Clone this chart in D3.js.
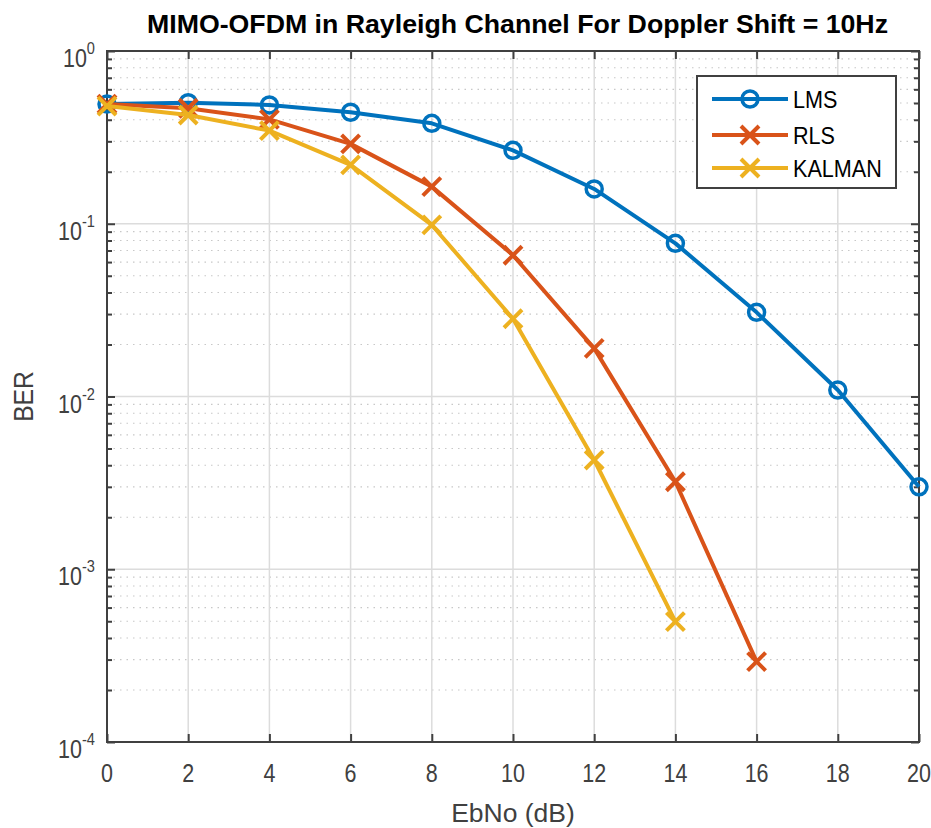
<!DOCTYPE html>
<html><head><meta charset="utf-8">
<script src="https://cdn.jsdelivr.net/npm/d3@7"></script>
<style>
html,body{margin:0;padding:0;background:#fff;}
svg{display:block;}
text{font-family:"Liberation Sans",Arial,sans-serif;}
</style></head>
<body>
<svg id="chart" width="931" height="828"></svg>
<script>
const ebno = [0, 2, 4, 6, 8, 10, 12, 14, 16, 18, 20];
const lms = [0.493, 0.502, 0.487, 0.442, 0.3815, 0.266, 0.159, 0.077, 0.0307, 0.0109, 0.0030];
const rls = [0.493, 0.466, 0.402, 0.290, 0.164, 0.0657, 0.0190, 0.00321, 0.000292];
const kalman = [0.480, 0.426, 0.346, 0.219, 0.0984, 0.0282, 0.00429, 0.000497];
const seriesNames = ["LMS", "RLS", "KALMAN"];
const xTicks = [0, 2, 4, 6, 8, 10, 12, 14, 16, 18, 20];
const yTickExps = [0, -1, -2, -3, -4];
const titleText = "MIMO-OFDM in Rayleigh Channel For Doppler Shift = 10Hz";
const xLabelText = "EbNo (dB)";
const yLabelText = "BER";

const colors = ["#0072BD", "#D95319", "#EDB120"];
const markers = ["circle", "x", "x"];
const seriesData = [lms, rls, kalman];

const svg = d3.select("#chart");
const L = 107, R = 919, T = 51, B = 742;
const x = d3.scaleLinear().domain([0, 20]).range([L, R]);
const y = d3.scaleLog().domain([1e-4, 1]).range([B, T]);

// minor grid (dotted)
const minors = [];
for (let e = -4; e < 0; e++) for (let m = 2; m <= 9; m++) minors.push(m * Math.pow(10, e));
svg.append("g").selectAll("line").data(minors).join("line")
  .attr("x1", L).attr("x2", R).attr("y1", d => y(d)).attr("y2", d => y(d))
  .attr("stroke", "#c8c8c8").attr("stroke-width", 1.2).attr("stroke-dasharray", "1.5,5");
// major grid
svg.append("g").selectAll("line").data(xTicks).join("line")
  .attr("x1", d => x(d)).attr("x2", d => x(d)).attr("y1", T).attr("y2", B)
  .attr("stroke", "#dcdcdc").attr("stroke-width", 1.5);
svg.append("g").selectAll("line").data(yTickExps).join("line")
  .attr("x1", L).attr("x2", R).attr("y1", d => y(Math.pow(10, d))).attr("y2", d => y(Math.pow(10, d)))
  .attr("stroke", "#dcdcdc").attr("stroke-width", 1.5);

// axes with inward ticks
const axisColor = "#404040";
function styleAxis(g) {
  g.select(".domain").remove();
  g.selectAll("line").attr("stroke", axisColor).attr("stroke-width", 2);
  g.selectAll("text").remove();
}
svg.append("g").attr("transform", `translate(0,${B})`)
  .call(d3.axisBottom(x).tickValues(xTicks).tickSizeInner(-8).tickSizeOuter(0)).call(styleAxis);
svg.append("g").attr("transform", `translate(0,${T})`)
  .call(d3.axisTop(x).tickValues(xTicks).tickSizeInner(-8).tickSizeOuter(0)).call(styleAxis);
const majorY = yTickExps.map(e => Math.pow(10, e));
svg.append("g").attr("transform", `translate(${L},0)`)
  .call(d3.axisLeft(y).tickValues(majorY).tickSizeInner(-8).tickSizeOuter(0)).call(styleAxis);
svg.append("g").attr("transform", `translate(${R},0)`)
  .call(d3.axisRight(y).tickValues(majorY).tickSizeInner(-8).tickSizeOuter(0)).call(styleAxis);
svg.append("g").attr("transform", `translate(${L},0)`)
  .call(d3.axisLeft(y).tickValues(minors).tickSizeInner(-5).tickSizeOuter(0)).call(styleAxis);
svg.append("g").attr("transform", `translate(${R},0)`)
  .call(d3.axisRight(y).tickValues(minors).tickSizeInner(-5).tickSizeOuter(0)).call(styleAxis);

// box
svg.append("rect").attr("x", L).attr("y", T).attr("width", R - L).attr("height", B - T)
  .attr("fill", "none").attr("stroke", axisColor).attr("stroke-width", 2);

// series
const lineGen = d3.line().x(d => x(d[0])).y(d => y(d[1]));
function drawMarker(g, type, cx, cy, color) {
  if (type === "circle") {
    g.append("circle").attr("cx", cx).attr("cy", cy).attr("r", 8)
      .attr("fill", "none").attr("stroke", color).attr("stroke-width", 3.5);
  } else {
    const s = 9;
    g.append("path").attr("d", `M${cx - s},${cy - s}L${cx + s},${cy + s}M${cx - s},${cy + s}L${cx + s},${cy - s}`)
      .attr("stroke", color).attr("stroke-width", 4).attr("stroke-linecap", "butt");
  }
}
seriesData.forEach((vals, i) => {
  const pts = vals.map((v, j) => [ebno[j], v]);
  const g = svg.append("g");
  g.append("path").datum(pts).attr("d", lineGen).attr("fill", "none")
    .attr("stroke", colors[i]).attr("stroke-width", 4).attr("stroke-linejoin", "round");
  pts.forEach(p => drawMarker(g, markers[i], x(p[0]), y(p[1]), colors[i]));
});

// tick labels
const tickColor = "#404040";
xTicks.forEach(t => {
  svg.append("text").attr("transform", `translate(${x(t)},782) scale(0.86,1)`)
    .attr("text-anchor", "middle").attr("font-size", 25).attr("fill", tickColor).text(t);
});
yTickExps.forEach(e => {
  const t = svg.append("text").attr("transform", `translate(95,${y(Math.pow(10, e)) + 16}) scale(0.86,1)`)
    .attr("text-anchor", "end").attr("fill", tickColor);
  t.append("tspan").attr("font-size", 25).text("10");
  t.append("tspan").attr("font-size", 17).attr("dy", -13).text(e);
});

// axis labels
svg.append("text").attr("x", (L + R) / 2).attr("y", 822).attr("text-anchor", "middle")
  .attr("font-size", 26.5).attr("fill", tickColor).text(xLabelText);
svg.append("text").attr("transform", `translate(33,${(T + B) / 2}) rotate(-90) scale(0.88,1)`)
  .attr("text-anchor", "middle").attr("font-size", 28).attr("fill", tickColor).text(yLabelText);

// title
svg.append("text").attr("x", 147).attr("y", 33).attr("textLength", 741).attr("lengthAdjust", "spacingAndGlyphs")
  .attr("font-family", "Lato, 'Open Sans', sans-serif").attr("font-weight", "bold")
  .attr("font-size", 26).attr("fill", "#000").text(titleText);

// legend
const lg = svg.append("g");
lg.append("rect").attr("x", 697).attr("y", 76).attr("width", 199).attr("height", 112)
  .attr("fill", "#fff").attr("stroke", axisColor).attr("stroke-width", 2);
const legY = [99, 135, 168];
seriesNames.forEach((n, i) => {
  lg.append("line").attr("x1", 712).attr("x2", 788).attr("y1", legY[i]).attr("y2", legY[i])
    .attr("stroke", colors[i]).attr("stroke-width", 4);
  drawMarker(lg, markers[i], 750, legY[i], colors[i]);
  lg.append("text").attr("transform", `translate(793,${legY[i] + 8.5}) scale(0.9,1)`)
    .attr("font-size", 24).attr("fill", "#000").text(n);
});
</script>
</body></html>
